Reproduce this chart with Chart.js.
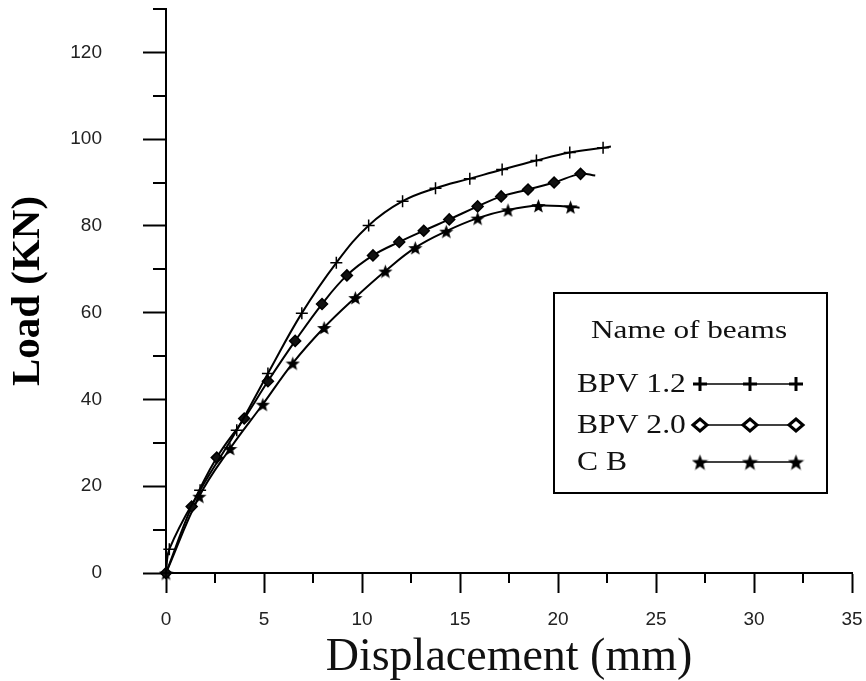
<!DOCTYPE html>
<html>
<head>
<meta charset="utf-8">
<script src="https://cdn.jsdelivr.net/npm/chart.js@4.4.1/dist/chart.umd.min.js"></script>
<style>
  html, body { margin: 0; padding: 0; background: #fff; }
</style>
</head>
<body>
<canvas id="loadChart" width="866" height="681"></canvas>
<script>
// load-displacement readings (last point of each = end of curve, no marker)
const bpv12Disp = [0, 0.17, 1.74, 3.61, 5.2, 6.93, 8.69, 10.34, 12.07, 13.75, 15.5, 17.15, 18.9, 20.6, 22.3, 22.7];
const bpv12Load = [0, 5.5, 19.1, 32.9, 46.0, 59.9, 71.5, 80.1, 85.7, 88.7, 90.9, 93.0, 95.1, 96.9, 98.0, 98.3];

const bpv20Disp = [0, 1.31, 2.59, 3.99, 5.2, 6.59, 7.96, 9.23, 10.56, 11.9, 13.15, 14.45, 15.9, 17.1, 18.47, 19.8, 21.15, 21.9];
const bpv20Load = [0, 15.3, 26.6, 35.6, 44.2, 53.5, 62.0, 68.6, 73.2, 76.3, 78.9, 81.5, 84.5, 86.8, 88.4, 90.0, 92.0, 91.6];

const cbDisp = [0, 1.7, 3.27, 4.94, 6.47, 8.07, 9.66, 11.19, 12.72, 14.3, 15.9, 17.45, 19.0, 20.64, 21.1];
const cbLoad = [0, 17.7, 28.7, 38.9, 48.4, 56.6, 63.5, 69.6, 75.0, 78.8, 81.8, 83.7, 84.7, 84.4, 84.2];

const beamNames = ["BPV 1.2", "BPV 2.0", "C B"];
const xMinorTicks = [2.5, 7.5, 12.5, 17.5, 22.5, 27.5, 32.5];
const yMinorTicks = [10, 30, 50, 70, 90, 110, 130];

function toPoints(xs, ys) {
  return xs.map((x, i) => ({ x: x, y: ys[i] }));
}

// no marker on the final point of a curve
function markerSize(r) {
  return (ctx) => (ctx.dataIndex === ctx.dataset.data.length - 1 ? 0 : r);
}

// five pointed star, Chart.js has no such pointStyle
function makeStar(size) {
  const c = document.createElement("canvas");
  c.width = size;
  c.height = size;
  const g = c.getContext("2d");
  const cx = size / 2, cy = size / 2 + 1, R = size / 2, r = R * 0.42;
  g.beginPath();
  for (let i = 0; i < 10; i++) {
    const a = -Math.PI / 2 + (i * Math.PI) / 5;
    const rr = i % 2 ? r : R;
    g.lineTo(cx + rr * Math.cos(a), cy + rr * Math.sin(a));
  }
  g.closePath();
  g.fillStyle = "#000";
  g.fill();
  return c;
}
const starImg = makeStar(15);
const starLegend = makeStar(17);

const minorTicks = {
  id: "minorTicks",
  afterDraw(chart) {
    const { x, y } = chart.scales;
    const g = chart.ctx;
    g.save();
    g.strokeStyle = "#000";
    g.lineWidth = 2;
    xMinorTicks.forEach((v) => {
      const px = Math.round(x.getPixelForValue(v));
      g.beginPath();
      g.moveTo(px, y.bottom);
      g.lineTo(px, y.bottom + 10);
      g.stroke();
    });
    yMinorTicks.forEach((v) => {
      const py = Math.round(y.getPixelForValue(v));
      g.beginPath();
      g.moveTo(x.left - 13, py);
      g.lineTo(x.left, py);
      g.stroke();
    });
    g.restore();
  },
};

function legendMarker(g, kind, px, py) {
  g.save();
  g.strokeStyle = "#000";
  g.lineWidth = 3;
  if (kind === 0) {
    g.beginPath();
    g.moveTo(px - 7, py);
    g.lineTo(px + 7, py);
    g.moveTo(px, py - 7);
    g.lineTo(px, py + 7);
    g.stroke();
  } else if (kind === 1) {
    g.fillStyle = "#fff";
    g.beginPath();
    g.moveTo(px - 7, py);
    g.lineTo(px, py - 6);
    g.lineTo(px + 7, py);
    g.lineTo(px, py + 6);
    g.closePath();
    g.fill();
    g.stroke();
  } else {
    g.drawImage(starLegend, px - 8.5, py - 8.5);
  }
  g.restore();
}

// text of the original is a little stretched sideways
function wideText(g, text, x, y, sx) {
  g.save();
  g.translate(x, y);
  g.scale(sx, 1);
  g.fillText(text, 0, 0);
  g.restore();
}

// boxed legend: "Name of beams" with label left, sample line right
const beamLegend = {
  id: "beamLegend",
  afterDraw(chart) {
    const g = chart.ctx;
    g.save();
    g.fillStyle = "#fff";
    g.fillRect(554, 293, 273, 200);
    g.strokeStyle = "#000";
    g.lineWidth = 2;
    g.strokeRect(554, 293, 273, 200);
    g.fillStyle = "#111";
    g.textBaseline = "middle";
    g.textAlign = "center";
    g.font = '25px "Liberation Serif"';
    wideText(g, "Name of beams", 689, 331, 1.25);
    g.textAlign = "left";
    g.font = '27px "Liberation Serif"';
    const rows = [384, 425, 462];
    beamNames.forEach((name, i) => {
      const ry = rows[i];
      wideText(g, name, 577, ry + 1, 1.17);
      g.strokeStyle = "#000";
      g.lineWidth = 1.5;
      g.beginPath();
      g.moveTo(700, ry);
      g.lineTo(796, ry);
      g.stroke();
      [700, 750, 796].forEach((mx) => legendMarker(g, i, mx, ry));
    });
    g.restore();
  },
};

const lineStyle = {
  borderColor: "#000",
  borderWidth: 2,
  tension: 0.4,
  fill: false,
  clip: false,
  pointBorderColor: "#000",
};

new Chart(document.getElementById("loadChart"), {
  type: "line",
  data: {
    datasets: [
      {
        ...lineStyle,
        label: beamNames[0],
        data: toPoints(bpv12Disp, bpv12Load),
        pointStyle: "cross",
        pointRadius: markerSize(6),
        pointBorderWidth: 1.5,
      },
      {
        ...lineStyle,
        label: beamNames[1],
        data: toPoints(bpv20Disp, bpv20Load),
        pointStyle: "rectRot",
        pointRadius: markerSize(5.5),
        pointBorderWidth: 1.5,
        pointBackgroundColor: "#111",
      },
      {
        ...lineStyle,
        label: beamNames[2],
        data: toPoints(cbDisp, cbLoad),
        pointStyle: starImg,
        pointRadius: markerSize(7),
      },
    ],
  },
  options: {
    responsive: false,
    animation: false,
    layout: { padding: { top: 8, right: 14, left: 0, bottom: 0 } },
    plugins: {
      legend: { display: false },
      tooltip: { enabled: false },
    },
    scales: {
      x: {
        type: "linear",
        min: 0,
        max: 35,
        ticks: {
          stepSize: 5,
          padding: 15,
          maxRotation: 0,
          color: "#222",
          font: { family: "Liberation Sans", size: 19 },
        },
        grid: { drawOnChartArea: false, tickLength: 20, tickWidth: 2, tickColor: "#000" },
        border: { color: "#000", width: 2 },
        title: {
          display: true,
          text: "Displacement (mm)",
          color: "#111",
          font: { family: "Liberation Serif", size: 46, lineHeight: 1 },
          padding: { top: 5, bottom: 0 },
        },
        afterFit: (s) => {
          s.height = 108;
          s.paddingLeft = 0;
          s.paddingRight = 0;
        },
      },
      y: {
        min: 0,
        max: 130,
        ticks: {
          stepSize: 20,
          includeBounds: false,
          padding: 41,
          color: "#222",
          font: { family: "Liberation Sans", size: 19 },
        },
        grid: { drawOnChartArea: false, tickLength: 23, tickWidth: 2, tickColor: "#000" },
        border: { color: "#000", width: 2 },
        title: {
          display: true,
          text: "Load (KN)",
          color: "#000",
          font: { family: "Liberation Serif", size: 41, weight: "bold", lineHeight: 1 },
          padding: { top: 8, bottom: 0 },
        },
        afterFit: (s) => {
          s.width = 166;
          s.paddingTop = 0;
          s.paddingBottom = 0;
        },
      },
    },
  },
  plugins: [minorTicks, beamLegend],
});
</script>
</body>
</html>
